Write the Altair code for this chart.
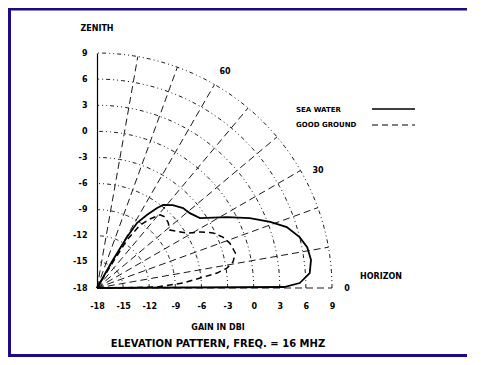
import altair as alt
import pandas as pd
import numpy as np

# ---- data (elevation angle in degrees, gain in dBi) ----
sea_angle = [0, 0.3, 1.4, 4.0, 7.5, 11.0, 14.1, 17.8, 20.9, 24.6, 28.6, 34.2, 38.9,
             42.9, 47.5, 51.5, 53.1, 55.6, 58.4, 59.5, 60.5, 62]
sea_gain = [-18, 3.5, 5.3, 6.5, 6.8, 6.6, 6.0, 4.9, 3.3, 1.3, -1.0, -3.7, -4.3,
            -4.5, -5.1, -5.8, -6.5, -7.8, -9.2, -11.2, -14.5, -18]

good_angle = [0, 0.4, 1.0, 3.3, 5.5, 7.1, 8.7, 10.8, 14.2, 18.7, 22.0, 25.4, 28.5,
              31.4, 38.5, 42.5, 46.2, 49.2, 52.5, 55.7, 58.0, 58.4, 60]
good_gain = [-18, -15, -11.1, -8.1, -6.1, -4.1, -2.9, -2.1, -1.6, -1.9, -2.4, -3.25, -4.5,
             -5.9, -7.3, -6.9, -6.7, -6.9, -8.0, -9.3, -11.5, -14.5, -18]

tick_values = [-18, -15, -12, -9, -6, -3, 0, 3, 6, 9]
ring_gains = [-15, -12, -9, -6, -3, 0, 3, 6, 9]
radial_angles = [0, 10, 20, 30, 40, 50, 60, 70, 80]
angle_labels = ["60", "30", "0"]

# ---- tables ----
arc_rows = [{"ring": g, "angle": a, "gain": g} for g in ring_gains for a in range(0, 91)]
arcs_df = pd.DataFrame(arc_rows)
rad_rows = [{"ang": a, "angle": a, "gain": g} for a in radial_angles for g in (-18, 9)]
rad_df = pd.DataFrame(rad_rows)
sea_df = pd.DataFrame({"angle": sea_angle, "gain": sea_gain})
good_df = pd.DataFrame({"angle": good_angle, "gain": good_gain})

X = "-18 + (datum.gain + 18) * cos(datum.angle * PI / 180)"
Y = "-18 + (datum.gain + 18) * sin(datum.angle * PI / 180)"

FONT = "DejaVu Sans"
xscale = alt.Scale(domain=[-18, 9], nice=False, zero=False)
yscale = alt.Scale(domain=[-18, 9], nice=False, zero=False)

xaxis = alt.Axis(values=tick_values, title=None, domain=False, ticks=False, grid=False,
                 labelPadding=14, labelExpr="'' + datum.value")
yaxis = alt.Axis(values=tick_values, title=None, domain=True, domainColor="black",
                 domainWidth=1.2, ticks=False, grid=False, labelPadding=10,
                 labelExpr="'' + datum.value")


def xy():
    return dict(x=alt.X("x:Q", scale=xscale, axis=xaxis), y=alt.Y("y:Q", scale=yscale, axis=yaxis))


arcs = alt.Chart(arcs_df).transform_calculate(x=X, y=Y).mark_line(
    color="black", strokeWidth=0.9, strokeDash=[4, 3, 1, 3, 1, 3]
).encode(**xy(), detail="ring:N", order="angle:Q")

radials = alt.Chart(rad_df).transform_calculate(x=X, y=Y).mark_line(
    color="black", strokeWidth=0.9, strokeDash=[7, 4]
).encode(**xy(), detail="ang:N")

sea = alt.Chart(sea_df).transform_calculate(x=X, y=Y).mark_line(
    color="black", strokeWidth=1.8
).encode(**xy(), order="angle:Q")

good = alt.Chart(good_df).transform_calculate(x=X, y=Y).mark_line(
    color="black", strokeWidth=1.5, strokeDash=[6, 4]
).encode(**xy(), order="angle:Q")


def label(text, x, y, size=8, align="center"):
    return alt.Chart(pd.DataFrame({"t": [text]})).mark_text(
        font=FONT, fontSize=size, fontWeight="bold", color="black", align=align, baseline="middle"
    ).encode(text="t:N", x=alt.value(x), y=alt.value(y))


texts = [
    label("ZENITH", 0, -24),
    label(angle_labels[0], 128, 19),
    label(angle_labels[1], 221, 118),
    label(angle_labels[2], 250, 236),
    label("HORIZON", 263, 224, align="left"),
    label("SEA WATER", 199, 57, size=7, align="left"),
    label("GOOD GROUND", 199, 72, size=7, align="left"),
    label("GAIN IN DBI", 121, 275),
    label("ELEVATION PATTERN, FREQ. = 16 MHZ", 121, 291, size=10),
]

one = pd.DataFrame({"k": [0]})
leg_sea = alt.Chart(one).mark_rule(color="black", strokeWidth=1.5).encode(
    x=alt.value(275), x2=alt.value(318), y=alt.value(56))
leg_good = alt.Chart(one).mark_rule(color="black", strokeWidth=1.2, strokeDash=[6, 4]).encode(
    x=alt.value(275), x2=alt.value(318), y=alt.value(72))

BORDER = "#1b0c84"


def band(x1, x2, y1, y2):
    return alt.Chart(one).mark_rect(color=BORDER).encode(
        x=alt.value(x1), x2=alt.value(x2), y=alt.value(y1), y2=alt.value(y2))


borders = [band(-89, -86, -45, 304), band(-89, 370, -45, -42.5), band(-89, 370, 301, 304)]

chart = alt.layer(arcs, radials, sea, good, *texts, leg_sea, leg_good, *borders).properties(
    width=235, height=235,
    autosize=alt.AutoSizeParams(type="none"),
    padding={"left": 89, "top": 45, "right": 147, "bottom": 69},
    background="white",
).configure_view(stroke=None).configure_axis(
    labelOverlap=False, labelFlush=False, labelBound=False,
    labelFont=FONT, labelFontSize=8, labelFontWeight="bold", labelColor="black",
)

chart.save("out.html", embed_options={"renderer": "svg", "actions": False})
